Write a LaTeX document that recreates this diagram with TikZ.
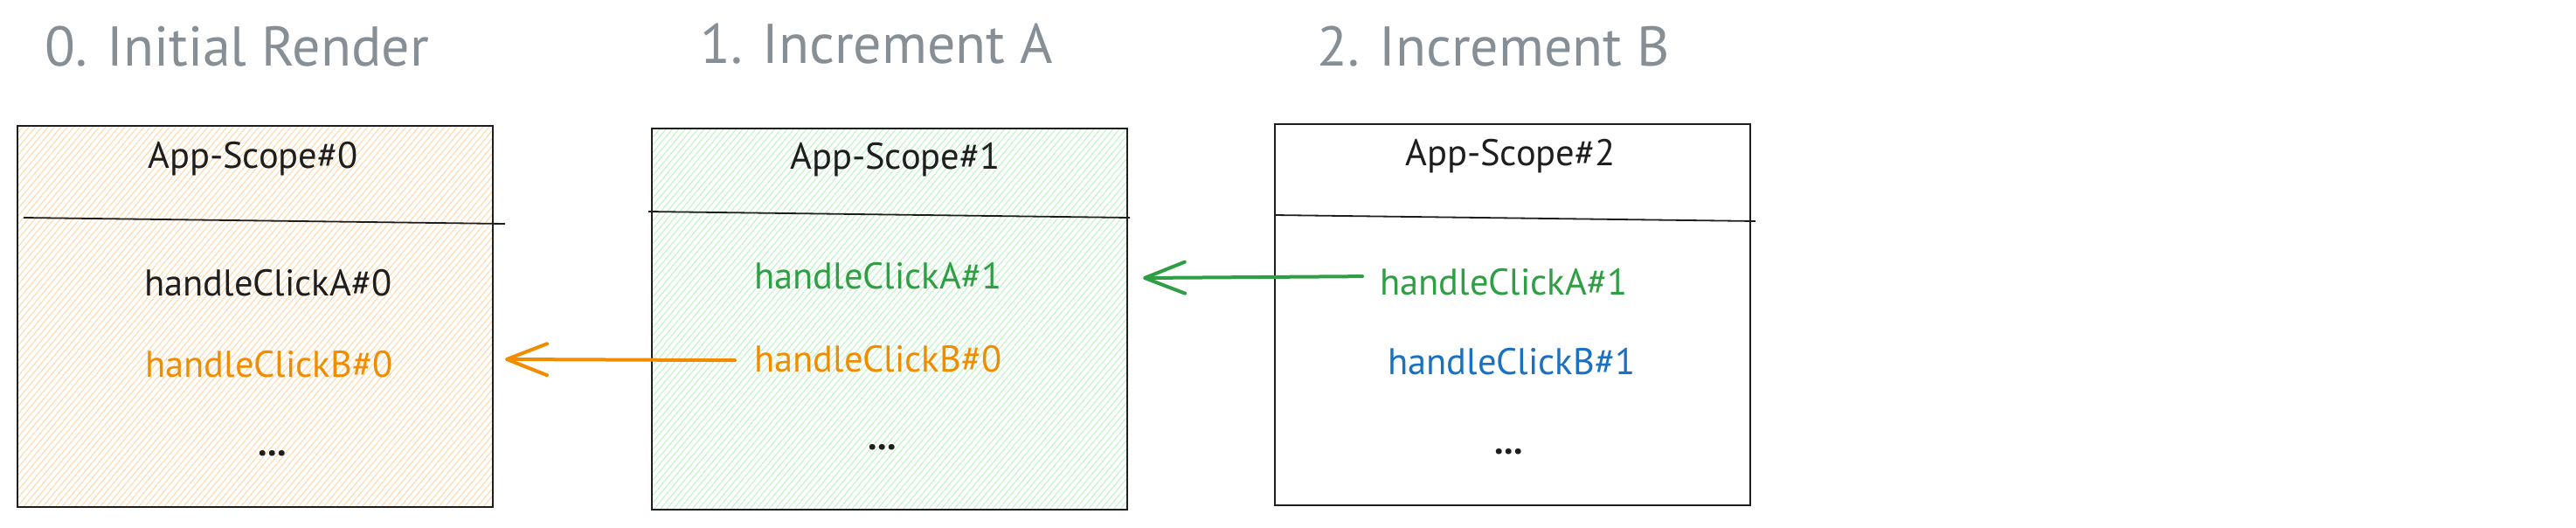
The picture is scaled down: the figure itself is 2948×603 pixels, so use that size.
\documentclass[tikz,border=0pt]{standalone}
\usepackage{fontspec}
\setmainfont{PT Sans}
\usetikzlibrary{patterns.meta,arrows.meta}
\definecolor{titlegray}{HTML}{868E96}
\definecolor{inkblack}{HTML}{1E1E1E}
\definecolor{exorange}{HTML}{F08C00}
\definecolor{exgreen}{HTML}{2F9E44}
\definecolor{exblue}{HTML}{1971C2}
\definecolor{hatchorange}{HTML}{FFD6A6}
\definecolor{hatchgreen}{HTML}{B9F3C1}
\tikzset{
  titletext/.style={anchor=base west, inner sep=0pt, text=titlegray, font=\fontsize{64}{70}\selectfont},
  bodytext/.style={anchor=base west, inner sep=0pt, font=\fontsize{42.5}{48}\selectfont},
  dotstext/.style={anchor=base, inner sep=0pt, text=inkblack, font=\fontsize{42.5}{48}\selectfont\bfseries},
  scopebox/.style={draw=inkblack, line width=2pt, minimum width=544pt, minimum height=436pt, inner sep=0pt},
  hatchO/.style={pattern={Lines[angle=50,distance=5.6pt,line width=1pt]}, pattern color=hatchorange},
  hatchG/.style={pattern={Lines[angle=50,distance=5.6pt,line width=1pt]}, pattern color=hatchgreen},
  divider/.style={draw=inkblack, line width=1.8pt},
  ptr/.style={line width=4pt, line cap=round, -{Straight Barb[length=46pt,width=36pt,round]}}
}
\begin{document}
\begin{tikzpicture}[x=1pt,y=-1pt]
\useasboundingbox (0,0) rectangle (2948,603);
% titles
\node[titletext] (t0) at (51,75) {0. Initial Render};
\node[titletext] (t1) at (801,72) {1. Increment A};
\node[titletext] (t2) at (1507,75) {2. Increment B};
% boxes
\node[scopebox, hatchO] (box0) at (292,361.5) {};
\node[scopebox, hatchG] (box1) at (1018,364.5) {};
\node[scopebox, fill=white] (box2) at (1731,359.5) {};
% dividers
\draw[divider] (27,249) -- (578,256);
\draw[divider] (742,242) -- (1293,249);
\draw[divider] (1458,246) -- (2009,253);
% box 0 contents
\node[bodytext, text=inkblack] (s0) at (169,192) {App-Scope\#0};
\node[bodytext, text=inkblack] (a0) at (165,338) {handleClickA\#0};
\node[bodytext, text=exorange] (b0) at (166,431) {handleClickB\#0};
\node[dotstext] (d0) at (312,521) {...};
% box 1 contents
\node[bodytext, text=inkblack] (s1) at (904,193) {App-Scope\#1};
\node[bodytext, text=exgreen] (a1) at (863,330) {handleClickA\#1};
\node[bodytext, text=exorange] (b1) at (863,425) {handleClickB\#0};
\node[dotstext] (d1) at (1010,514) {...};
% box 2 contents
\node[bodytext, text=inkblack] (s2) at (1608,189) {App-Scope\#2};
\node[bodytext, text=exgreen] (a2) at (1579,337) {handleClickA\#1};
\node[bodytext, text=exblue] (b2) at (1588,428) {handleClickB\#1};
\node[dotstext] (d2) at (1727,519) {...};
% arrows
\coordinate (tipO) at (578,411);
\coordinate (tipG) at (1308,318);
\draw[ptr, draw=exorange] ([xshift=-22pt,yshift=-2pt]b1.west) -- (tipO);
\draw[ptr, draw=exgreen] ([xshift=-20pt,yshift=6pt]a2.west) -- (tipG);
\end{tikzpicture}
\end{document}
